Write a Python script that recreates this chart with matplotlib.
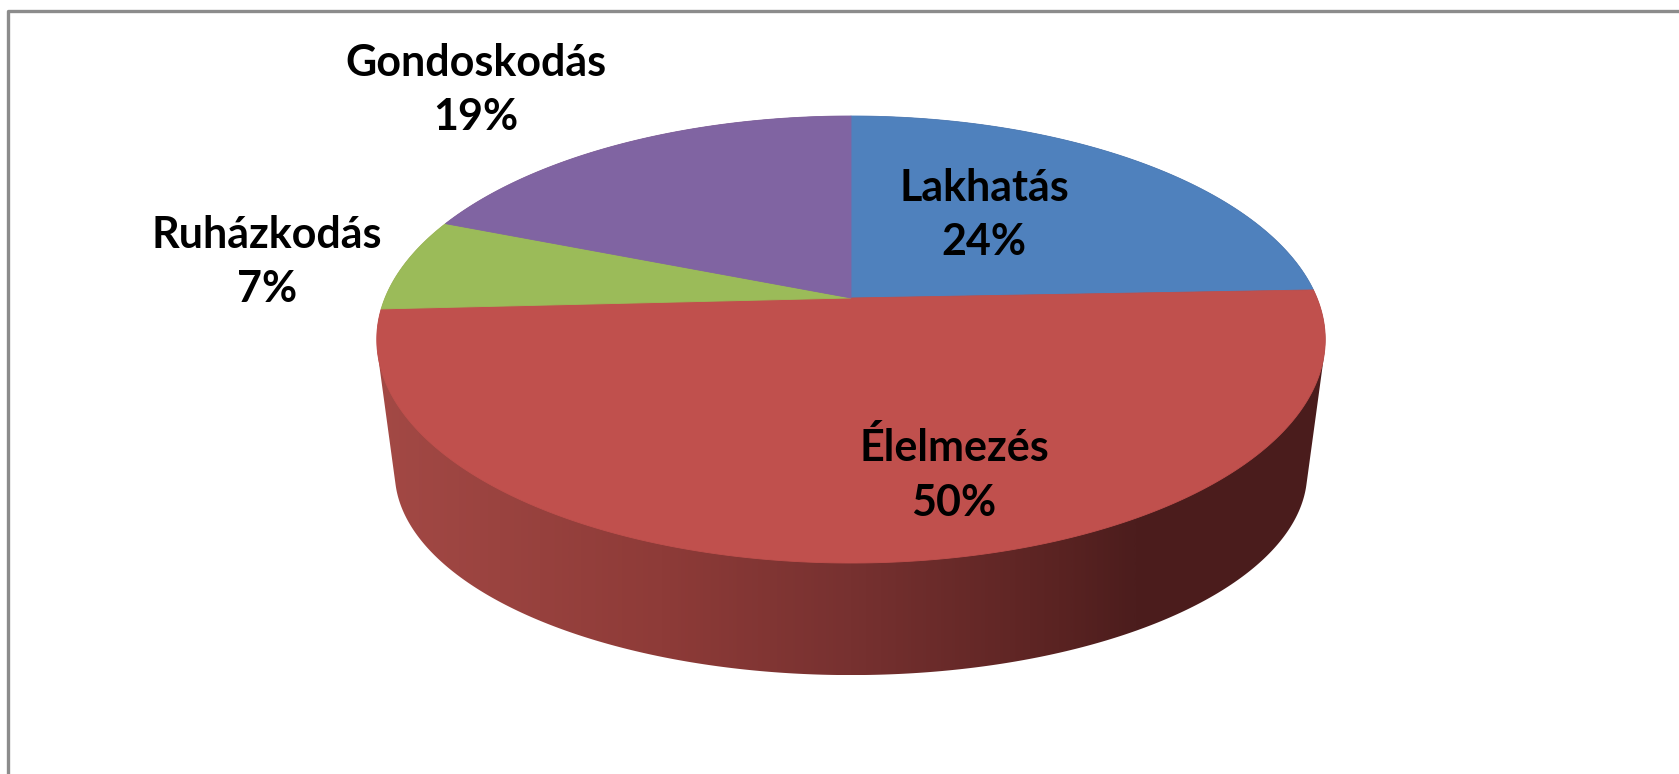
import numpy as np
import matplotlib
matplotlib.use("Agg")
import matplotlib.pyplot as plt
from matplotlib.patches import Polygon
from matplotlib.colors import LinearSegmentedColormap

# ---- data ----
categories = ["Lakhatás", "Élelmezés", "Ruházkodás", "Gondoskodás"]
shares = [24.4, 49.8, 6.8, 19.0]
colors = ["#4F81BD", "#C0504D", "#9BBB59", "#8064A2"]

# ---- layout (pixel space) ----
W, H = 1679, 774
cx, cy = 851, 298             # projected pie centre
a, b, k = 466, 215.8, 0.1857  # half width, half height, perspective
bot_sx, bot_sy, bot_dy = 0.962, 0.906, 165.0   # bottom rim (farther, smaller)
label_xy = [(984, 215), (954, 475), (267, 262), (476, 90)]

fig = plt.figure(figsize=(W / 100, H / 100), dpi=100)
ax = fig.add_axes([0, 0, 1, 1])
ax.set_xlim(0, W)
ax.set_ylim(H, 0)
ax.axis("off")


def proj(theta_deg, r=1.0):
    t = np.radians(theta_deg)
    u = r * np.sin(t)
    v = -r * np.cos(t)
    den = 1 - k * v
    return cx + a * u / den, cy + b * v / den


def hull(points):
    pts = sorted(map(tuple, points))
    def cross(o, p, q):
        return (p[0] - o[0]) * (q[1] - o[1]) - (p[1] - o[1]) * (q[0] - o[0])
    lower, upper = [], []
    for p in pts:
        while len(lower) >= 2 and cross(lower[-2], lower[-1], p) <= 0:
            lower.pop()
        lower.append(p)
    for p in reversed(pts):
        while len(upper) >= 2 and cross(upper[-2], upper[-1], p) <= 0:
            upper.pop()
        upper.append(p)
    return np.array(lower[:-1] + upper[:-1])


# ---- side of the cylinder, gradient ----
th = np.linspace(0, 360, 721)
xt, yt = proj(th)
xb = cx + bot_sx * (xt - cx)
yb = bot_sy * yt + bot_dy
side_pts = hull(np.vstack([np.column_stack([xt, yt]), np.column_stack([xb, yb])]))
side = Polygon(side_pts, closed=True, facecolor="none", edgecolor="none")
ax.add_patch(side)
grad_cmap = LinearSegmentedColormap.from_list(
    "side", [(0, "#A34945"), (0.3, "#8E3B38"), (0.5, "#773130"), (0.72, "#5A2322"), (0.8, "#4C1D1D"), (1, "#4A1C1C")])
gx = np.linspace(0, 1, 512)[None, :]
x0, x1 = side_pts[:, 0].min(), side_pts[:, 0].max()
im = ax.imshow(gx, cmap=grad_cmap, extent=[x0, x1, side_pts[:, 1].max(), side_pts[:, 1].min()],
               aspect="auto", zorder=1, interpolation="bilinear")
im.set_clip_path(side)
ax.set_xlim(0, W)
ax.set_ylim(H, 0)

# ---- top face wedges ----
start = 0.0
total = sum(shares)
for val, col in zip(shares, colors):
    span = val / total * 360
    tt = np.linspace(start, start + span, max(int(span * 3), 4))
    px, py = proj(tt)
    pts = np.vstack([[cx, cy], np.column_stack([px, py])])
    ax.add_patch(Polygon(pts, closed=True, facecolor=col, edgecolor=col, lw=0.6, zorder=2))
    start += span

# ---- labels ----
for name, val, (lx, ly) in zip(categories, shares, label_xy):
    ax.text(lx, ly, f"{name}\n{val:.0f}%", ha="center", va="center", multialignment="center",
            fontsize=31, fontweight="bold", family=["Lato", "DejaVu Sans"], color="black",
            linespacing=1.45, zorder=5)

# ---- frame ----
ax.plot([8, 8, W + 5], [H + 5, 11, 11], color="#8C8C8C", lw=2.4, solid_capstyle="butt", zorder=6)

fig.savefig("out.png", dpi=100)
